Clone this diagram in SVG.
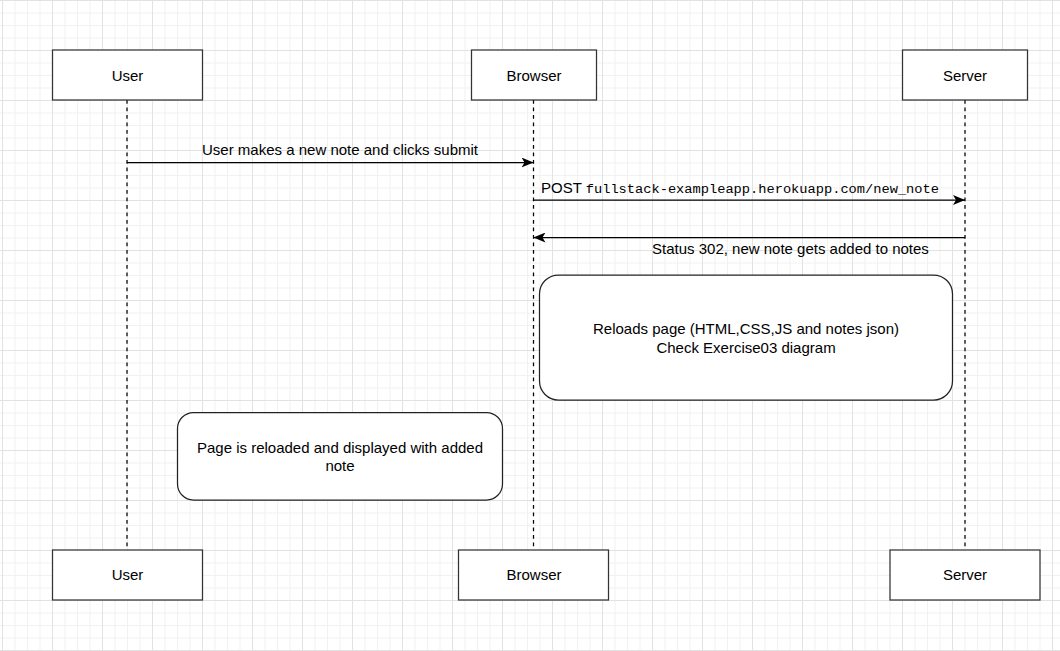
<svg xmlns="http://www.w3.org/2000/svg" width="1060" height="651" viewBox="0 0 1060 651">
  <defs>
    <pattern id="grid" patternUnits="userSpaceOnUse" x="2" y="0" width="50" height="50">
      <rect x="12.5" y="0" width="1" height="50" fill="#f1f1f1"/>
      <rect x="25" y="0" width="1" height="50" fill="#f1f1f1"/>
      <rect x="37.5" y="0" width="1" height="50" fill="#f1f1f1"/>
      <rect x="0" y="12.5" width="50" height="1" fill="#f1f1f1"/>
      <rect x="0" y="25" width="50" height="1" fill="#f1f1f1"/>
      <rect x="0" y="37.5" width="50" height="1" fill="#f1f1f1"/>
      <rect x="0" y="0" width="1" height="50" fill="#e2e2e2"/>
      <rect x="0" y="0" width="50" height="1" fill="#e2e2e2"/>
    </pattern>
    <marker id="arrow" markerUnits="userSpaceOnUse" viewBox="0 0 12 10" markerWidth="12" markerHeight="10" refX="12" refY="5" orient="auto">
      <path d="M0,0 L12,5 L0,10 L3,5 Z" fill="#000"/>
    </marker>
  </defs>
  <style>
    .box { fill: #ffffff; stroke: #333333; stroke-width: 1.25; }
    .note { fill: #ffffff; stroke: #222222; stroke-width: 1.25; }
    .life { stroke: #000000; stroke-width: 1.25; stroke-dasharray: 3.75 3.75; fill: none; }
    .msg { stroke: #000000; stroke-width: 1.25; fill: none; marker-end: url(#arrow); }
    text { font-family: "Liberation Sans", Arial, sans-serif; font-size: 15px; fill: #000000; }
    .c { text-anchor: middle; }
    .mono { font-family: "Liberation Mono", "DejaVu Sans Mono", monospace; font-size: 13.7px; }
  </style>
  <rect x="0" y="0" width="1060" height="651" fill="#ffffff"/>
  <rect x="0" y="0" width="1060" height="651" fill="url(#grid)"/>

  <g id="connectors">
    <line class="life" x1="127" y1="100" x2="127" y2="550"/>
    <line class="life" x1="533.5" y1="100" x2="533.5" y2="550"/>
    <line class="life" x1="965" y1="100" x2="965" y2="550"/>
    <line class="msg" x1="127" y1="162.5" x2="533.5" y2="162.5"/>
    <text class="c" x="340" y="155">User makes a new note and clicks submit</text>
    <line class="msg" x1="533.5" y1="200" x2="965" y2="200"/>
    <text x="541" y="193">POST <tspan class="mono">fullstack-exampleapp.herokuapp.com/new_note</tspan></text>
    <line class="msg" x1="965" y1="237.5" x2="533.5" y2="237.5"/>
    <text x="652" y="254">Status 302, new note gets added to notes</text>
  </g>

  <g id="user-top">
    <rect class="box" x="52.5" y="50" width="150" height="50"/>
    <text class="c" x="127.5" y="80.5">User</text>
  </g>
  <g id="browser-top">
    <rect class="box" x="471.5" y="50" width="125" height="50"/>
    <text class="c" x="534" y="80.5">Browser</text>
  </g>
  <g id="server-top">
    <rect class="box" x="902.5" y="50" width="125" height="50"/>
    <text class="c" x="965" y="80.5">Server</text>
  </g>

  <g id="reload-note">
    <rect class="note" x="539.5" y="275" width="413" height="125" rx="19" ry="19"/>
    <text class="c" x="746" y="334">Reloads page (HTML,CSS,JS and notes json)</text>
    <text class="c" x="746" y="352.5">Check Exercise03 diagram</text>
  </g>
  <g id="page-note">
    <rect class="note" x="177.5" y="412.5" width="325" height="87.5" rx="16" ry="16"/>
    <text class="c" x="340" y="453">Page is reloaded and displayed with added</text>
    <text class="c" x="340" y="471">note</text>
  </g>

  <g id="user-bottom">
    <rect class="box" x="52.5" y="550" width="150" height="50"/>
    <text class="c" x="127.5" y="580">User</text>
  </g>
  <g id="browser-bottom">
    <rect class="box" x="458.5" y="550" width="150" height="50"/>
    <text class="c" x="534" y="580">Browser</text>
  </g>
  <g id="server-bottom">
    <rect class="box" x="890" y="550" width="150" height="50"/>
    <text class="c" x="965" y="580">Server</text>
  </g>
</svg>
